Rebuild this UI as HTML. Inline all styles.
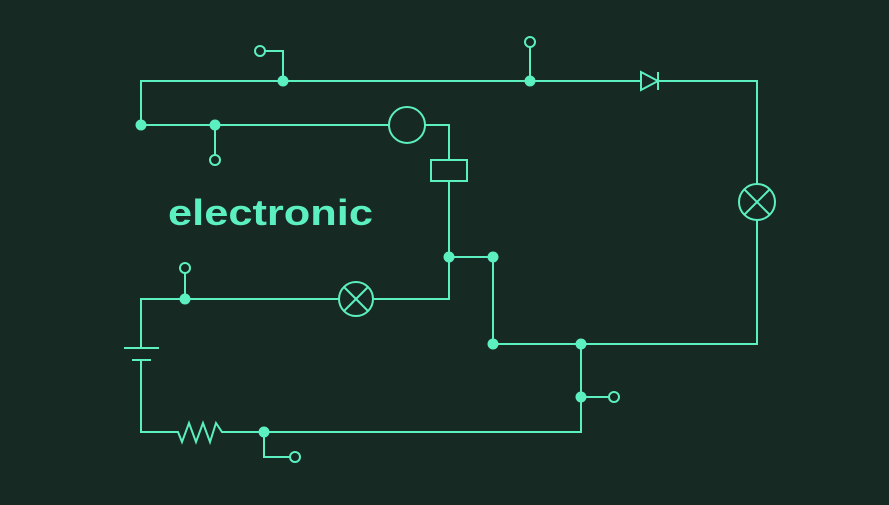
<!DOCTYPE html>
<html><head><style>
html,body{margin:0;padding:0;background:#172923;}
</style></head><body>
<svg width="889" height="500" viewBox="0 0 889 500" xmlns="http://www.w3.org/2000/svg">
<rect width="889" height="500" fill="#172923"/>
<g stroke="#5cefbf" stroke-width="2" fill="none">
<polyline points="141,125 141,81 641,81"/>
<polyline points="658,81 757,81 757,184"/>
<polyline points="757,220 757,344 493,344 493,257 449,257"/>
<polygon points="641,72 641,90 658,81"/>
<line x1="658" y1="72" x2="658" y2="90"/>
<circle cx="757" cy="202" r="18"/>
<line x1="744" y1="189" x2="770" y2="215"/><line x1="770" y1="189" x2="744" y2="215"/>
<polyline points="283,81 283,51 265,51"/><circle cx="260" cy="51" r="5"/>
<line x1="530" y1="81" x2="530" y2="47"/><circle cx="530" cy="42" r="5"/>
<polyline points="141,125 389,125"/><polyline points="425,125 449,125 449,160"/>
<circle cx="407" cy="125" r="18"/>
<rect x="431" y="160" width="36" height="21"/>
<polyline points="449,181 449,299 374,299"/>
<circle cx="356" cy="299" r="17"/>
<line x1="344" y1="287" x2="368" y2="311"/><line x1="368" y1="287" x2="344" y2="311"/>
<polyline points="339,299 141,299 141,348"/>
<line x1="124" y1="348" x2="159" y2="348"/><line x1="132" y1="360" x2="151" y2="360"/>
<polyline points="141,360 141,432 178,432 182,442 189,423 196,442 203,423 210,442 216,423 222,432 581,432 581,344"/>
<line x1="215" y1="125" x2="215" y2="155"/><circle cx="215" cy="160" r="5"/>
<line x1="185" y1="299" x2="185" y2="273"/><circle cx="185" cy="268" r="5"/>
<line x1="581" y1="397" x2="609" y2="397"/><circle cx="614" cy="397" r="5"/>
<polyline points="264,432 264,457 290,457"/><circle cx="295" cy="457" r="5"/>
</g>
<g fill="#5cefbf">
<circle cx="283" cy="81" r="5.5"/><circle cx="530" cy="81" r="5.5"/>
<circle cx="141" cy="125" r="5.5"/><circle cx="215" cy="125" r="5.5"/>
<circle cx="449" cy="257" r="5.5"/><circle cx="493" cy="257" r="5.5"/>
<circle cx="493" cy="344" r="5.5"/><circle cx="581" cy="344" r="5.5"/>
<circle cx="581" cy="397" r="5.5"/><circle cx="185" cy="299" r="5.5"/>
<circle cx="264" cy="432" r="5.5"/>
<text x="168" y="225" font-family="Liberation Sans, sans-serif" font-size="36" font-weight="bold" textLength="205" lengthAdjust="spacingAndGlyphs">electronic</text>
</g>
</svg>
</body></html>
